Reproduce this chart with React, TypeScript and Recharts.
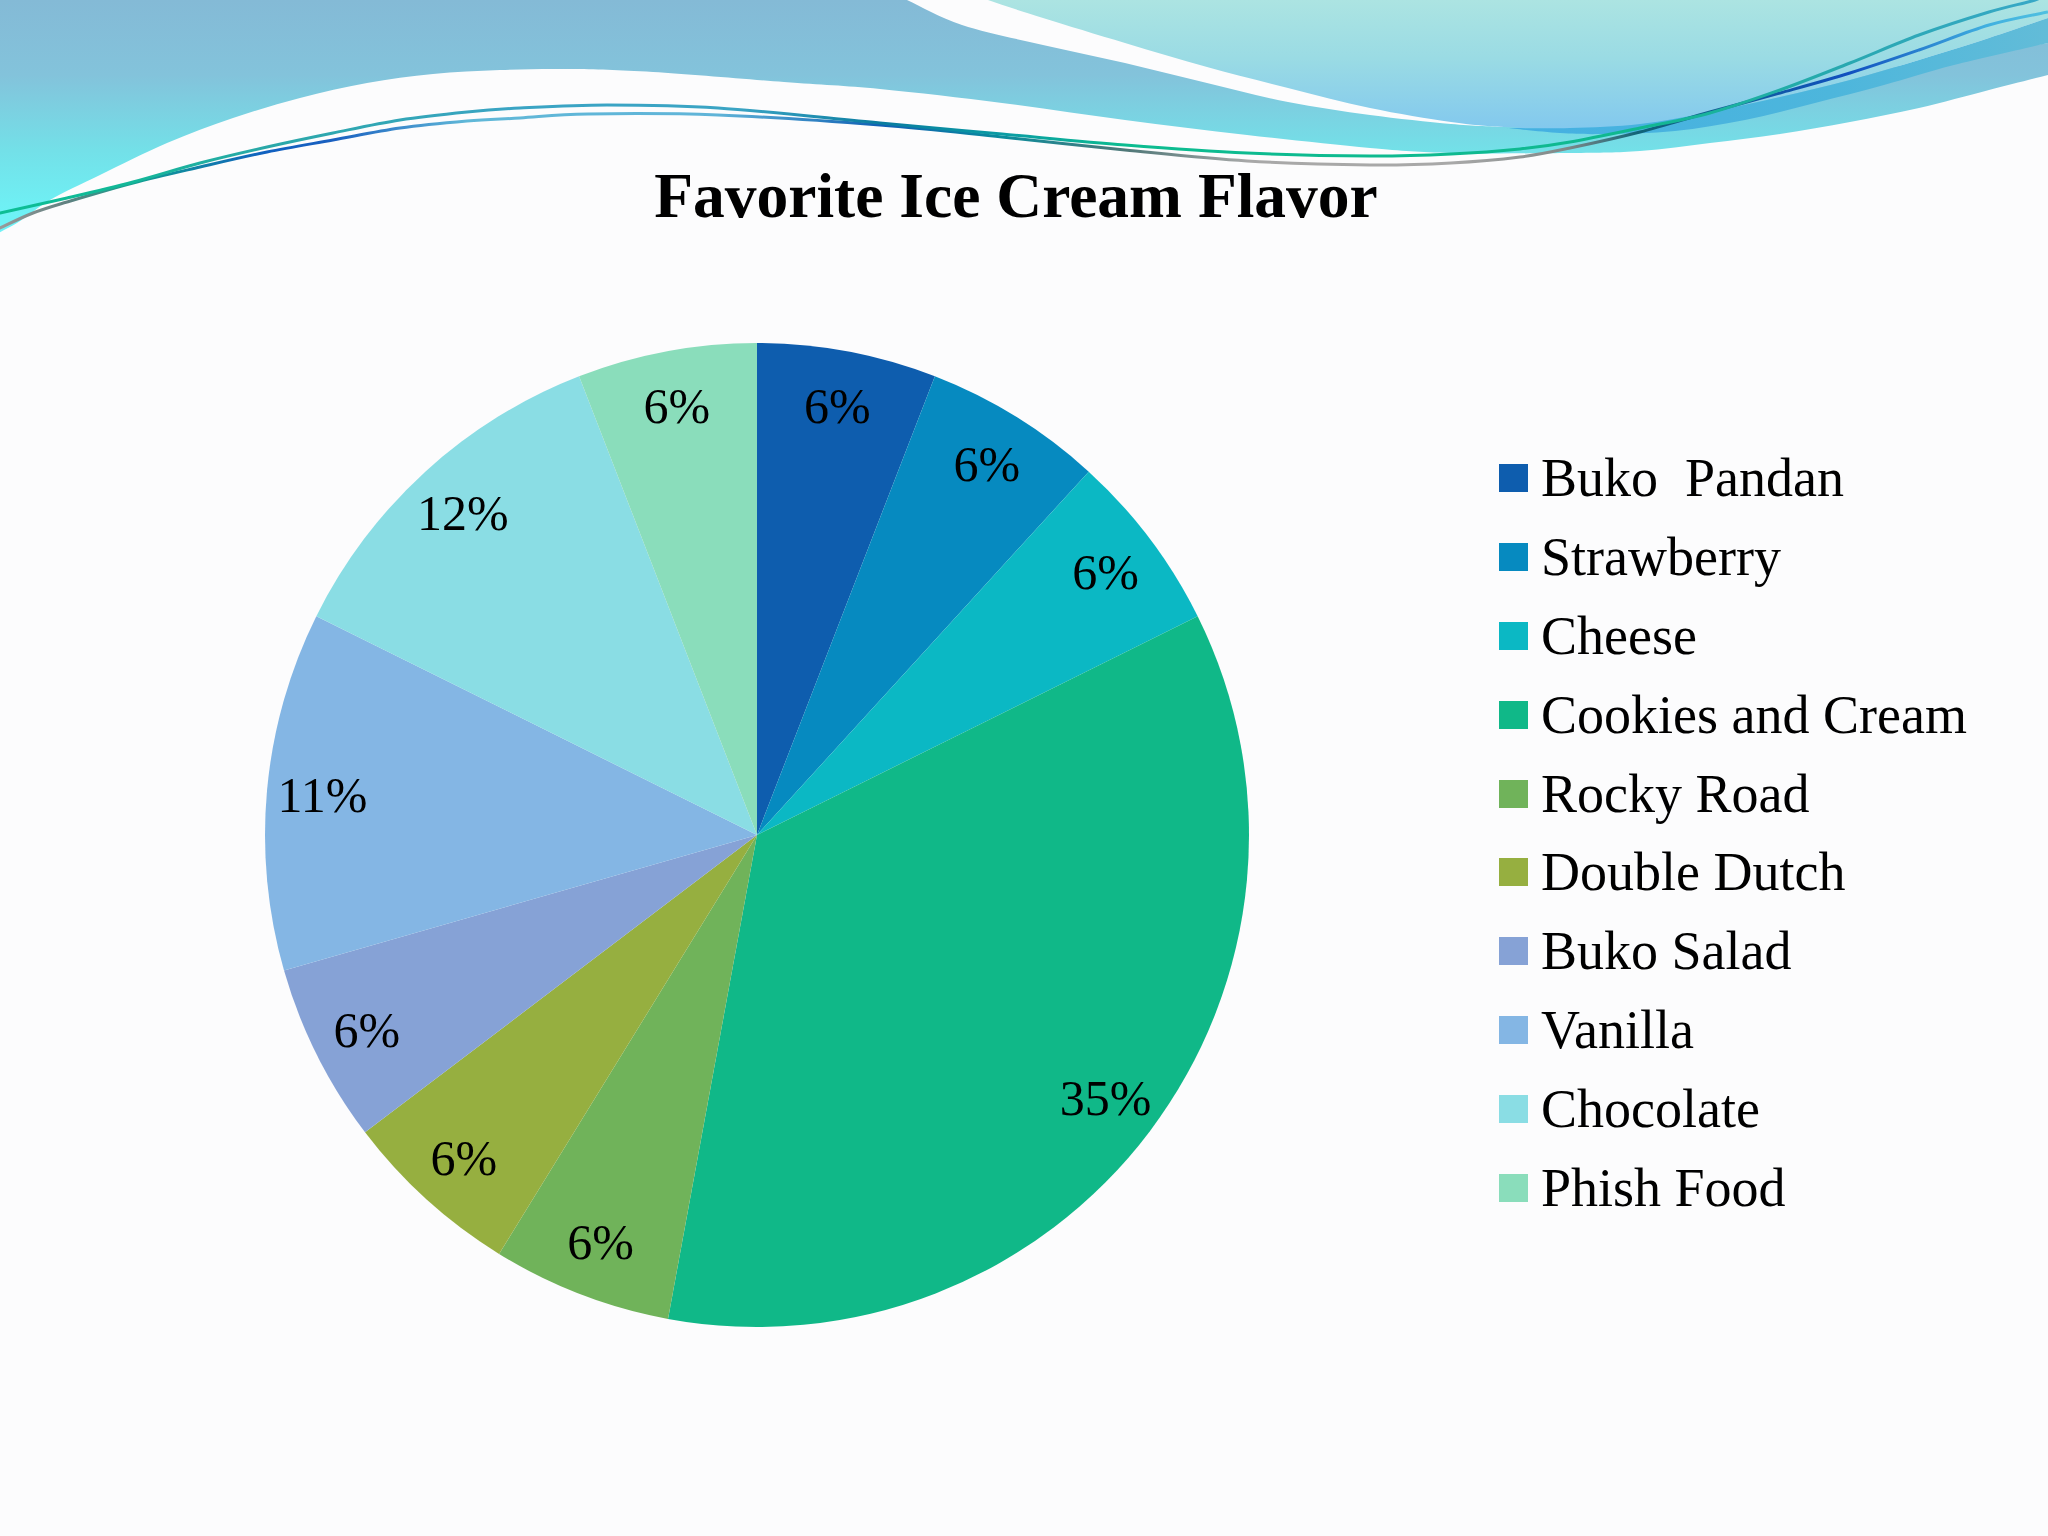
import React from "react";
import { PieChart, Pie, Cell, Legend } from "recharts";

// Chart data
const flavors = ["Buko  Pandan", "Strawberry", "Cheese", "Cookies and Cream", "Rocky Road", "Double Dutch", "Buko Salad", "Vanilla", "Chocolate", "Phish Food"];
const shares = [5.9, 5.9, 5.9, 35.3, 5.9, 5.9, 5.9, 11.8, 11.8, 5.9];
const printedLabels = ["6%", "6%", "6%", "35%", "6%", "6%", "6%", "11%", "12%", "6%"];
const COLORS = ["#0E5DAE", "#068AC0", "#0BB8C4", "#10B888", "#70B35A", "#96AF40", "#86A2D6", "#84B6E4", "#8ADDE4", "#8ADDBB"];

const chartData = flavors.map((name, i) => ({ name, value: shares[i] }));

const SERIF = "'Liberation Serif', serif";
const RADIAN = Math.PI / 180;

// Slide decoration
type Pt = [number, number];
const lowerEdge: Pt[] = [[-20, 242], [17, 223], [50, 200], [100, 175], [167, 143], [233, 118], [300, 98], [367, 83], [433, 74], [500, 70], [570, 69], [653, 72], [784, 82], [880, 89], [1002, 103], [1125, 120], [1247, 135], [1370, 148], [1451, 153], [1570, 153], [1640, 151], [1710, 143], [1780, 134], [1850, 122], [1919, 108], [1989, 90], [2048, 75]];
const upperEdge: Pt[] = [[880, -12], [907, 0], [962, 25], [1043, 45], [1125, 63], [1207, 83], [1288, 102], [1370, 115], [1451, 124], [1504, 127]];
const tealEdge: Pt[] = [[960, -12], [988, 0], [1043, 18], [1125, 43], [1207, 67], [1288, 88], [1370, 108], [1451, 122], [1504, 127], [1570, 129], [1640, 125], [1710, 112], [1780, 97], [1850, 80], [1919, 60], [1989, 38], [2048, 18]];
const ribbonTop: Pt[] = [[1507, 128], [1570, 128], [1640, 124], [1710, 112], [1780, 97], [1850, 80], [1919, 60], [1989, 38], [2048, 18]];
const ribbonBottom: Pt[] = [[2048, 43], [1954, 65], [1884, 85], [1815, 103], [1745, 120], [1675, 131], [1605, 134], [1560, 133], [1507, 128]];
const lineOne: Pt[] = [[-20, 218], [0, 213], [67, 198], [133, 182], [200, 163], [267, 147], [333, 133], [400, 120], [467, 112], [520, 108], [607, 105], [718, 108], [880, 123], [1002, 134], [1125, 145], [1247, 153], [1370, 156], [1451, 154], [1520, 149], [1570, 142], [1640, 128], [1710, 113], [1780, 90], [1850, 63], [1919, 35], [1989, 12], [2035, 0], [2050, -8]];
const lineTwo: Pt[] = [[-20, 238], [0, 228], [33, 213], [67, 202], [133, 183], [200, 167], [267, 152], [333, 140], [400, 128], [467, 121], [520, 118], [588, 114], [718, 115], [880, 125], [1002, 137], [1125, 150], [1247, 161], [1370, 165], [1451, 163], [1520, 157], [1570, 148], [1640, 132], [1710, 112], [1780, 93], [1850, 73], [1919, 50], [1989, 25], [2048, 12]];

// Catmull-Rom through the traced points
const curve = (pts: Pt[]) => {
  let d = "";
  for (let i = 0; i < pts.length - 1; i++) {
    const p0 = pts[Math.max(0, i - 1)];
    const p1 = pts[i];
    const p2 = pts[i + 1];
    const p3 = pts[Math.min(pts.length - 1, i + 2)];
    const c1 = [p1[0] + (p2[0] - p0[0]) / 6, p1[1] + (p2[1] - p0[1]) / 6];
    const c2 = [p2[0] - (p3[0] - p1[0]) / 6, p2[1] - (p3[1] - p1[1]) / 6];
    d += ` C${c1[0]},${c1[1]} ${c2[0]},${c2[1]} ${p2[0]},${p2[1]}`;
  }
  return d;
};

const open = (pts: Pt[]) => `M${pts[0][0]},${pts[0][1]}${curve(pts)}`;

const Backdrop = () => (
  <svg width={2048} height={1536} style={{ position: "absolute", left: 0, top: 0 }}>
    <defs>
      <linearGradient id="bandFill" gradientUnits="userSpaceOnUse" x1="0" y1="0" x2="0" y2="215">
        <stop offset="0" stopColor="#84BAD6" />
        <stop offset="0.35" stopColor="#83C3DB" />
        <stop offset="0.7" stopColor="#73E0E8" />
        <stop offset="1" stopColor="#6EF2F6" />
      </linearGradient>
      <linearGradient id="tealFill" gradientUnits="userSpaceOnUse" x1="0" y1="0" x2="0" y2="130">
        <stop offset="0" stopColor="#ACE4E2" />
        <stop offset="0.45" stopColor="#9ADBE4" />
        <stop offset="1" stopColor="#82C8EE" />
      </linearGradient>
      <linearGradient id="ribbonFill" gradientUnits="userSpaceOnUse" x1="1507" y1="0" x2="2048" y2="0">
        <stop offset="0" stopColor="#44B0E2" />
        <stop offset="0.6" stopColor="#4DB6DC" />
        <stop offset="1" stopColor="#62BCD8" />
      </linearGradient>
      <linearGradient id="lineOneStroke" gradientUnits="userSpaceOnUse" x1="0" y1="0" x2="2048" y2="0">
        <stop offset="0" stopColor="#0CBE94" />
        <stop offset="0.06" stopColor="#12B898" />
        <stop offset="0.13" stopColor="#2AA8A8" />
        <stop offset="0.25" stopColor="#3AA4C4" />
        <stop offset="0.36" stopColor="#3AA4C4" />
        <stop offset="0.43" stopColor="#0A7CA0" />
        <stop offset="0.49" stopColor="#0A9CA4" />
        <stop offset="0.55" stopColor="#0CBC90" />
        <stop offset="0.8" stopColor="#10B890" />
        <stop offset="0.9" stopColor="#28A8B0" />
        <stop offset="1" stopColor="#38A8C8" />
      </linearGradient>
      <linearGradient id="lineTwoStroke" gradientUnits="userSpaceOnUse" x1="0" y1="0" x2="2048" y2="0">
        <stop offset="0" stopColor="#9A9A9A" />
        <stop offset="0.033" stopColor="#608080" />
        <stop offset="0.065" stopColor="#12A090" />
        <stop offset="0.13" stopColor="#1060C0" />
        <stop offset="0.163" stopColor="#1A60C0" />
        <stop offset="0.228" stopColor="#60B8D8" />
        <stop offset="0.35" stopColor="#60B4D8" />
        <stop offset="0.43" stopColor="#1060B4" />
        <stop offset="0.49" stopColor="#0A8C9C" />
        <stop offset="0.55" stopColor="#507878" />
        <stop offset="0.61" stopColor="#A8A8A8" />
        <stop offset="0.71" stopColor="#A8A8A8" />
        <stop offset="0.765" stopColor="#808888" />
        <stop offset="0.8" stopColor="#106478" />
        <stop offset="0.903" stopColor="#1050C0" />
        <stop offset="0.97" stopColor="#40B0E0" />
        <stop offset="1" stopColor="#50C0E0" />
      </linearGradient>
    </defs>
    <rect x={0} y={0} width={2048} height={1536} fill="#FCFCFD" />
    <path
      d={`M-20,-12 L880,-12 ${curve(upperEdge)} L2048,43 L2048,75 ${curve([...lowerEdge].reverse())} Z`}
      fill="url(#bandFill)"
    />
    <path d={`${open(tealEdge)} L2048,-12 Z`} fill="url(#tealFill)" />
    <path d={`${open(ribbonTop)} L2048,43 ${curve(ribbonBottom)} Z`} fill="url(#ribbonFill)" />
    <path d={open(lineTwo)} fill="none" stroke="url(#lineTwoStroke)" strokeWidth={3} />
    <path d={open(lineOne)} fill="none" stroke="url(#lineOneStroke)" strokeWidth={3} />
  </svg>
);

const renderLabel = ({ cx, cy, midAngle, outerRadius, index }: any) => {
  const r = outerRadius * 0.887;
  const x = cx + r * Math.cos(-midAngle * RADIAN);
  const y = cy + r * Math.sin(-midAngle * RADIAN);
  return (
    <text x={x} y={y} textAnchor="middle" dominantBaseline="central" style={{ fontFamily: SERIF, fontSize: 50, fill: "#000" }}>
      {printedLabels[index]}
    </text>
  );
};

const renderLegend = ({ payload }: any) => (
  <div>
    {(payload || []).map((entry: any, i: number) => (
      <div key={entry.value} style={{ display: "flex", alignItems: "center", height: 78.8 }}>
        <div style={{ width: 29, height: 28, background: COLORS[i], marginRight: 13 }} />
        <span style={{ fontFamily: SERIF, fontSize: 54, color: "#000", whiteSpace: "pre" }}>{entry.value}</span>
      </div>
    ))}
  </div>
);

export default function App() {
  return (
    <div style={{ position: "absolute", left: 0, top: 0, width: 2048, height: 1536, overflow: "hidden" }}>
      <Backdrop />
      <div style={{ position: "absolute", left: 0, top: 0 }}>
        <PieChart width={2048} height={1536} margin={{ top: 0, right: 0, bottom: 0, left: 0 }}>
          <text x={1016} y={217} textAnchor="middle" style={{ fontFamily: SERIF, fontSize: 63.5, fontWeight: 700, fill: "#000" }}>
            Favorite Ice Cream Flavor
          </text>
          <Pie
            data={chartData}
            dataKey="value"
            nameKey="name"
            cx={757}
            cy={835}
            innerRadius={0}
            outerRadius={492}
            startAngle={90}
            endAngle={-270}
            stroke="none"
            label={renderLabel}
            labelLine={false}
            isAnimationActive={false}
          >
            {chartData.map((d, i) => (
              <Cell key={d.name} fill={COLORS[i]} />
            ))}
          </Pie>
          <Legend
            layout="vertical"
            content={renderLegend}
            itemSorter={null}
            wrapperStyle={{ position: "absolute", left: 1499, top: 439, width: 540, height: 790, bottom: "auto", right: "auto" }}
          />
        </PieChart>
      </div>
    </div>
  );
}
